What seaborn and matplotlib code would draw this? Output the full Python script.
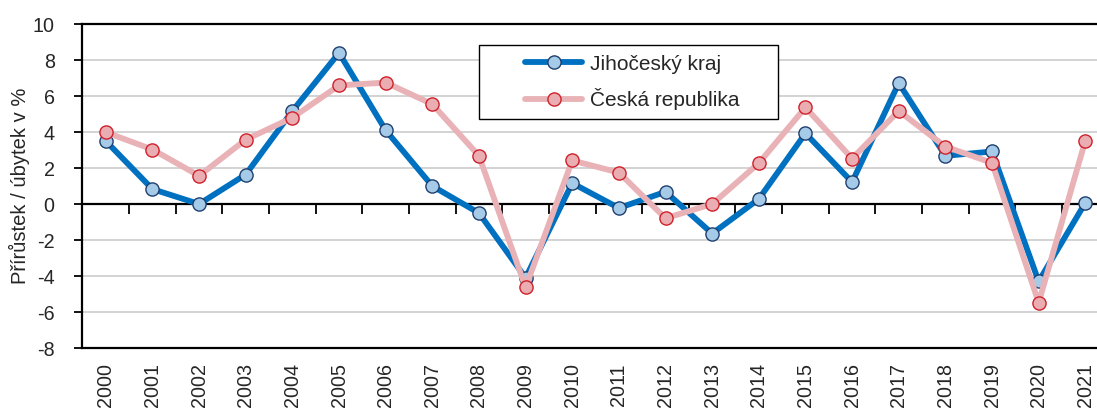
import pandas as pd
import matplotlib
matplotlib.use("Agg")
import matplotlib.pyplot as plt
import seaborn as sns
from matplotlib.legend_handler import HandlerLine2D

# data
years = [str(y) for y in range(2000, 2022)]
jihocesky = [3.5, 0.83, 0.0, 1.64, 5.17, 8.4, 4.1, 1.0, -0.5, -4.1,
             1.16, -0.22, 0.68, -1.64, 0.28, 3.93, 1.22, 6.72, 2.68, 2.92,
             -4.3, 0.07]
cr = [3.99, 3.03, 1.57, 3.58, 4.8, 6.59, 6.75, 5.55, 2.68, -4.63,
      2.42, 1.75, -0.79, 0.0, 2.27, 5.37, 2.53, 5.17, 3.19, 2.29,
      -5.48, 3.52]
series_names = ["Jihočeský kraj", "Česká republika"]
y_ticks = list(range(-8, 11, 2))


class RightHandler(HandlerLine2D):
    # draw the legend line only in the right part of the handle box
    def create_artists(self, legend, orig_handle, xdescent, ydescent,
                       width, height, fontsize, trans):
        arts = super().create_artists(legend, orig_handle, xdescent, ydescent,
                                      width, height, fontsize, trans)
        x0 = -xdescent
        for a in arts:
            xs = [x0 + 0.39 * width + (x - x0) * 0.61 for x in a.get_xdata()]
            a.set_xdata(xs)
        return arts


sns.set_style("white")
plt.rcParams["font.family"] = ["Liberation Sans", "DejaVu Sans"]

df = pd.DataFrame({"pos": range(len(years)), "jc": jihocesky, "cr": cr})

fig = plt.figure(figsize=(10.97, 4.08), dpi=100)
ax = fig.add_axes([0.0752, 0.147, 0.9354, 0.794])

# gridlines
for t in y_ticks:
    ax.axhline(t, color="#d0d0d0", lw=1.3, zorder=0)

sns.lineplot(data=df, x="pos", y="jc", ax=ax, color="#0070C0", lw=4.2,
             marker="o", markersize=9.5, markerfacecolor="#A6CBE8",
             markeredgecolor="#1F3F6E", markeredgewidth=1.0,
             label=series_names[0], zorder=3)
sns.lineplot(data=df, x="pos", y="cr", ax=ax, color="#E8B2B6", lw=4.2,
             marker="o", markersize=9.5, markerfacecolor="#EAADB2",
             markeredgecolor="#D0202A", markeredgewidth=1.0,
             label=series_names[1], zorder=4)

ax.set_xlim(-0.5, len(years) - 0.5)
ax.set_ylim(-8, 10)
ax.set_yticks(y_ticks)
ax.set_yticklabels([str(t) for t in y_ticks], fontsize=14.2)
ax.tick_params(axis="y", direction="out", length=6, width=1.3, color="black",
               left=True, pad=14)
ax.set_xticks(range(len(years)))
ax.set_xticklabels(years, rotation=90, fontsize=14.2)
ax.tick_params(axis="x", length=0, pad=11)
ax.set_xlabel("")
ax.set_ylabel("Přírůstek / úbytek v %", fontsize=14.5, labelpad=2)

for s in ax.spines.values():
    s.set_color("black")
    s.set_linewidth(1.6)

# category axis crossing at zero, with ticks between categories
sec = ax.secondary_xaxis(8 / 18)
sec.set_xticks([i + 0.5 for i in range(len(years) - 1)])
sec.set_xticklabels([])
sec.tick_params(direction="out", length=7, width=1.3, color="black")
sec.spines["bottom"].set_linewidth(1.6)
sec.spines["bottom"].set_color("black")

handles, labels = ax.get_legend_handles_labels()
leg = ax.legend(handles, labels, loc="upper left",
                bbox_to_anchor=(0.3864, 0.5, 0.2914, 0.435), mode="expand",
                fontsize=15, frameon=True, fancybox=False, edgecolor="black",
                framealpha=1, handlelength=4.5, handletextpad=0.4,
                borderpad=0.45, labelspacing=0.7, borderaxespad=0,
                handler_map={h: RightHandler() for h in handles})
leg.get_frame().set_linewidth(1.0)
for h in leg.legend_handles:
    h.set_linewidth(4.2)

fig.savefig("out.png", dpi=100)
